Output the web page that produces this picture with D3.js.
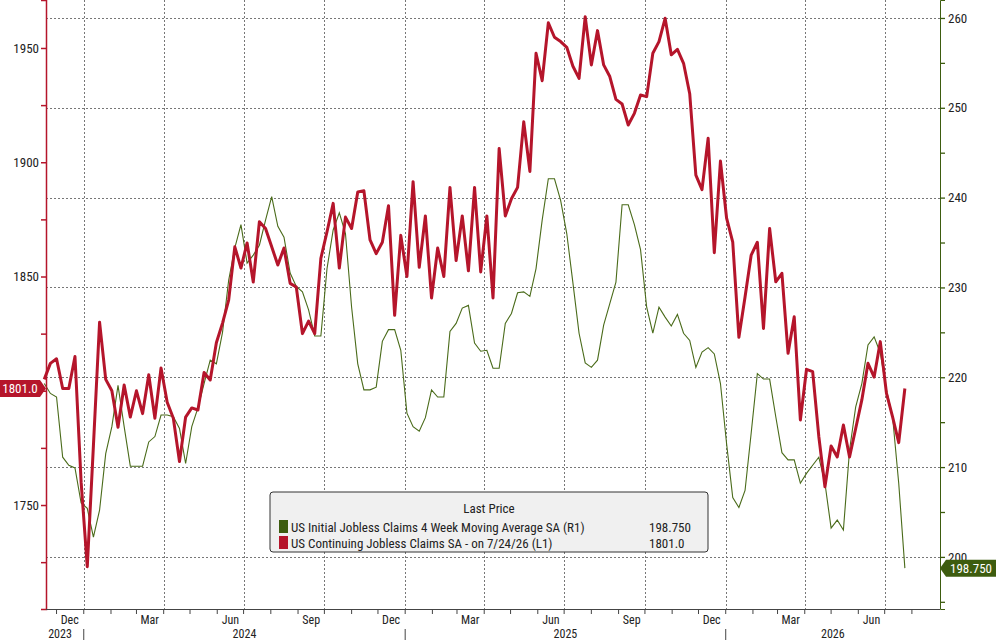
<!DOCTYPE html>
<html><head><meta charset="utf-8">
<script src="https://cdn.jsdelivr.net/npm/d3@7"></script>
<style>
body{margin:0;background:#fff}
text{font-family:"Liberation Sans Narrow","Arial Narrow","Roboto Condensed",sans-serif;font-size:13px;fill:#222}
</style></head>
<body><svg id="chart" width="996" height="640"></svg>
<script>
// weekly, last obs 2026-07-24
var lastDate = new Date(2026, 6, 24)
var continuing = [1805,1812,1814,1801,1801,1815,1760,1723,1776,1830,1805,1800,1784,1802.5,1788.5,1800,1790,1807,1788,1810,1795,1788,1769,1788.5,1792.5,1791.6,1808,1804.7,1821,1829.6,1839.7,1863,1853.7,1864.7,1847.6,1874,1871,1863,1855,1862.5,1847,1845.4,1825,1830.5,1825,1858,1869.6,1882,1853.7,1876,1871,1887,1887.5,1866,1860,1865,1881,1833,1868,1850,1891.5,1854,1876.5,1840.6,1862.5,1850,1889,1857,1876.5,1852.5,1889,1852,1876.5,1840.6,1906,1876.5,1884,1889,1917.7,1896,1947.7,1935.7,1961,1954.7,1952.8,1950.3,1942,1936.7,1963.7,1942.6,1957.6,1942.6,1937.5,1927.5,1925.5,1916.3,1921.4,1929.4,1928.7,1947.7,1952.8,1963,1947,1949.4,1943.3,1930,1894.4,1888,1910.5,1860.4,1900.5,1875.5,1865,1823.4,1841,1859.4,1865,1827.3,1871,1847.7,1851.4,1816.4,1832.4,1787.2,1809.4,1808.4,1780,1758,1775.8,1771,1785,1771,1783.5,1796,1812,1806,1821.5,1799,1788.6,1777.3,1801]
var initial4wk = [219.3,218.2,217.8,211.1,210.2,209.9,206,205.4,202.2,205.2,211.5,214.5,219.1,214.5,210.1,210.1,210.1,212.8,213.4,215.8,215.8,215.6,214.3,210.4,214.5,216.6,219.3,221.9,221.5,225,230.8,234.4,237,232.7,233.6,234.7,237.5,240.1,236.8,235.6,231.6,230.1,229.5,227.5,224.6,224.6,232.1,236.4,238.3,236,227.8,221.5,218.6,218.6,218.9,224,225.3,225.3,223,216,214.5,214,215.5,218.6,217.8,217.8,225.1,226,227.7,228,223.8,222.9,223,221,221,226,227.1,229.4,229.5,229,232.1,237.5,242.1,242.1,239.7,236,230.5,224.9,221.6,221.1,221.9,225.8,228.2,230.6,239.2,239.2,237,234.2,227.8,224.9,227.8,226.7,225.7,227,224.9,224.1,221.1,222.8,223.3,222.6,219.3,212.6,206.6,205.5,207.4,213.8,220.4,219.8,219.8,215.6,211.6,210.8,210.8,208.2,209.3,210.2,211.1,208.2,203.2,204.1,203,211.9,216.7,219.3,223.6,224.5,222.7,218.6,215.6,208.2,198.75]
var leftTicks = [1750,1800,1850,1900,1950]
var rightTicks = [200,210,220,230,240,250,260]
var monthLabels = {11:"Dec",2:"Mar",5:"Jun",8:"Sep"}
var legendRows = [
	{name:"US Initial Jobless Claims 4 Week Moving Average SA  (R1)", last:"198.750", color:"#3d5c0f"},
	{name:"US Continuing Jobless Claims SA -   on 7/24/26  (L1)", last:"1801.0", color:"#b5152b"}
]

var svg = d3.select("#chart")
var plot = {left:46, right:940, top:0, bottom:609}
var red = "#b5152b", green = "#4a6b1a", axGreen = "#3d5c0f"

function dateAt(i, n){ return d3.timeDay.offset(lastDate, -7*(n-1-i)) }

var x = d3.scaleTime().domain([new Date(2023,10,19), new Date(2026,8,2)]).range([plot.left, plot.right])
var yL = d3.scaleLinear().domain([1704.5, 1971]).range([plot.bottom, plot.top])
var yR = d3.scaleLinear().domain([194.2, 262]).range([plot.bottom, plot.top])

// grid
var grid = svg.append("g").attr("stroke","#777").attr("stroke-dasharray","2,2").attr("stroke-width",1)
grid.selectAll(".h").data(rightTicks).enter().append("line")
	.attr("x1",plot.left).attr("x2",plot.right)
	.attr("y1",d=>Math.round(yR(d))+0.5).attr("y2",d=>Math.round(yR(d))+0.5)
var quarters = d3.timeMonth.every(3).range(new Date(2024,0,1), new Date(2026,8,1))
grid.selectAll(".v").data(quarters).enter().append("line")
	.attr("y1",plot.top).attr("y2",plot.bottom)
	.attr("x1",d=>Math.round(x(d))+0.5).attr("x2",d=>Math.round(x(d))+0.5)

// lines
svg.append("path").datum(initial4wk)
	.attr("fill","none").attr("stroke",green).attr("stroke-width",1.1)
	.attr("d", d3.line().x((d,i)=>x(dateAt(i,initial4wk.length))).y(d=>yR(d)))
svg.append("path").datum(continuing)
	.attr("fill","none").attr("stroke",red).attr("stroke-width",3).attr("stroke-linejoin","round")
	.attr("d", d3.line().x((d,i)=>x(dateAt(i,continuing.length))).y(d=>yL(d)))

// left axis
var la = svg.append("g").attr("transform","translate("+plot.left+",0)")
	.call(d3.axisLeft(yL).tickValues(d3.range(1725,1975,25)).tickSize(5).tickFormat(d=>leftTicks.indexOf(d)>=0?d:""))
la.select(".domain").attr("stroke",red).attr("stroke-width",1.5)
la.selectAll(".tick line").attr("stroke",red).attr("stroke-width",1.5)
la.selectAll(".tick text").attr("x",-7).style("font-size","13px").attr("fill","#222")

// right axis
var ra = svg.append("g").attr("transform","translate("+plot.right+",0)")
	.call(d3.axisRight(yR).tickValues(d3.range(195,265,5)).tickSize(5).tickFormat(d=>rightTicks.indexOf(d)>=0?d:""))
ra.select(".domain").attr("stroke",axGreen).attr("stroke-width",1)
ra.selectAll(".tick line").attr("stroke",axGreen).attr("stroke-width",1.3)
ra.selectAll(".tick text").attr("x",8).style("font-size","13px").attr("fill","#222")

// bottom axis
var months = d3.timeMonth.range(new Date(2023,11,1), new Date(2026,8,1))
var ba = svg.append("g")
ba.append("line").attr("x1",plot.left).attr("x2",plot.right).attr("y1",plot.bottom+0.5).attr("y2",plot.bottom+0.5).attr("stroke","#444")
ba.selectAll(".mt").data(months).enter().append("line")
	.attr("x1",d=>x(d)).attr("x2",d=>x(d)).attr("y1",plot.bottom).attr("y2",plot.bottom+5).attr("stroke","#444")
ba.selectAll(".ml").data(months.filter(d=>monthLabels[d.getMonth()])).enter().append("text")
	.attr("x",d=>x(d3.timeDay.offset(d,15))).attr("y",plot.bottom+15).attr("text-anchor","middle")
	.style("font-size","12px").text(d=>monthLabels[d.getMonth()])
var years = [2023,2024,2025,2026]
ba.selectAll(".ys").data(years.slice(1)).enter().append("line")
	.attr("x1",d=>x(new Date(d,0,1))).attr("x2",d=>x(new Date(d,0,1)))
	.attr("y1",plot.bottom+20).attr("y2",640).attr("stroke","#444")
ba.selectAll(".yl").data(years).enter().append("text")
	.attr("x",function(d){
		var a = Math.max(plot.left, x(new Date(d,0,1))), b = Math.min(plot.right, x(new Date(d+1,0,1)))
		return d==2023 ? plot.left+14 : (a+b)/2
	})
	.attr("y",plot.bottom+29).attr("text-anchor","middle").style("font-size","12px").text(d=>d)

// last value tags
function tag(xp, yp, label, fill, dir){
	var g = svg.append("g").attr("transform","translate("+xp+","+yp+")")
	var w = 40, h = 17
	var pts = dir<0 ? [[0,0],[-6,-h/2],[-6-w,-h/2],[-6-w,h/2],[-6,h/2]] : [[0,0],[6,-h/2],[6+w+10,-h/2],[6+w+10,h/2],[6,h/2]]
	g.append("polygon").attr("points",pts.map(p=>p.join(",")).join(" ")).attr("fill",fill)
	g.append("text").attr("x",dir<0?-6-w/2:6+(w+10)/2).attr("y",4.5).attr("text-anchor","middle")
		.style("fill","#fff").style("font-size","13px").text(label)
}
tag(plot.left, yL(continuing[continuing.length-1]), "1801.0", red, -1)
tag(plot.right, yR(initial4wk[initial4wk.length-1]), "198.750", axGreen, 1)

// legend
var lg = svg.append("g").attr("transform","translate(270,492)")
lg.append("rect").attr("width",438).attr("height",60).attr("rx",3).attr("fill","#f0f0f0").attr("stroke","#333").attr("stroke-width",1)
lg.append("text").attr("x",219).attr("y",21).attr("text-anchor","middle").text("Last Price")
lg.selectAll(".row").data(legendRows).enter().append("g").attr("transform",(d,i)=>"translate(9,"+(28+i*16)+")")
	.each(function(d){
		var r = d3.select(this)
		r.append("rect").attr("width",9).attr("height",13).attr("fill",d.color)
		r.append("text").attr("x",12).attr("y",11.5).text(d.name)
		r.append("text").attr("x",370).attr("y",11.5).text(d.last)
	})
</script></body></html>
